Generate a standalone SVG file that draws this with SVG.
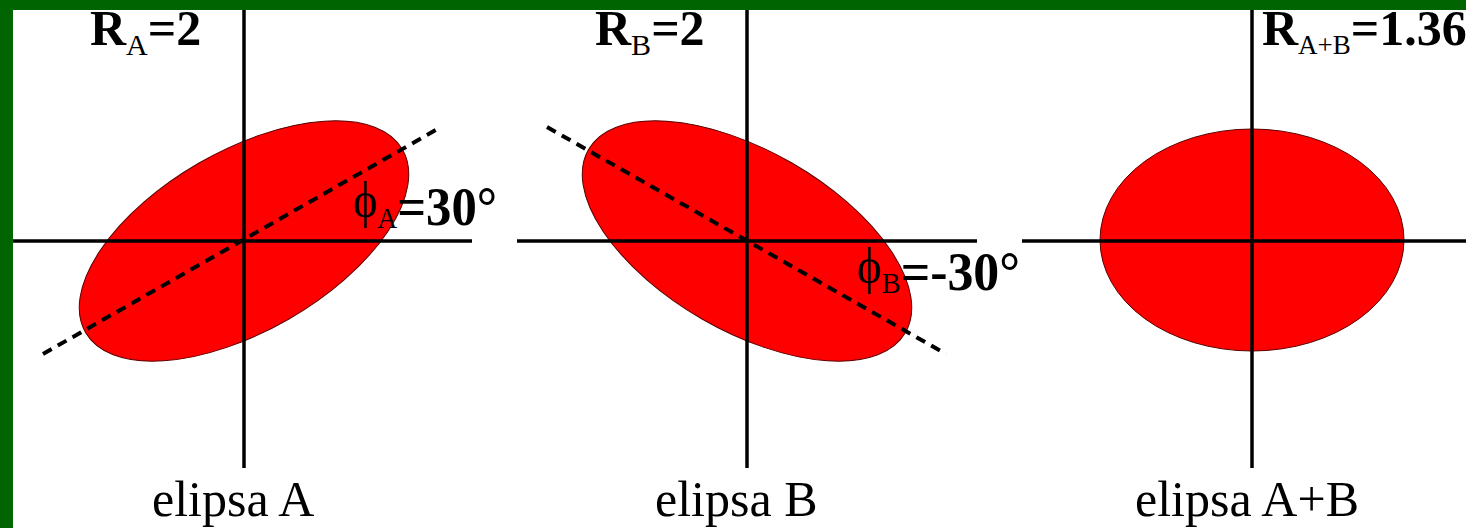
<svg xmlns="http://www.w3.org/2000/svg" width="1466" height="528" viewBox="0 0 1466 528">
<style>
.ell{fill:#ff0000;stroke:#5a0000;stroke-width:1}
.ax{stroke:#000;stroke-width:3.5;fill:none}
.dash{stroke:#000;stroke-width:4;stroke-dasharray:10 7;fill:none}
.b{font-family:"Liberation Serif","Times New Roman",serif;font-weight:bold;fill:#000}
.r{font-family:"Liberation Serif","Times New Roman",serif;font-weight:normal;fill:#000}
</style>
<rect x="0" y="0" width="1466" height="528" fill="#fff"/>
<g id="panelA">
<ellipse class="ell" cx="244" cy="241" rx="183" ry="90" transform="rotate(-30 244 241)"/>
</g>
<g id="panelB">
<ellipse class="ell" cx="747" cy="241" rx="183" ry="90" transform="rotate(30 747 241)"/>
</g>
<g id="panelC">
<ellipse class="ell" cx="1252" cy="240" rx="152" ry="111"/>
</g>
<g id="connectors">
<line class="ax" x1="13" y1="241" x2="472" y2="241"/>
<line class="ax" x1="244" y1="10" x2="244" y2="468"/>
<line class="ax" x1="517" y1="241" x2="977" y2="241"/>
<line class="ax" x1="747" y1="10" x2="747" y2="468"/>
<line class="ax" x1="1022" y1="241" x2="1466" y2="241"/>
<line class="ax" x1="1252" y1="10" x2="1252" y2="468"/>
<line class="dash" x1="43" y1="354" x2="441" y2="127"/>
<line class="dash" x1="547" y1="127" x2="946" y2="354"/>
</g>
<g id="labelA">
<text class="b" x="90" y="45" font-size="50">R<tspan class="r" font-size="30" dy="10">A</tspan><tspan dy="-10">=2</tspan></text>
<text class="r" x="353" y="217" font-size="50" textLength="144" lengthAdjust="spacingAndGlyphs">ϕ<tspan font-size="30" dy="11">A</tspan><tspan class="b" font-size="55" dy="-3">=30°</tspan></text>
<text class="r" x="152" y="516" font-size="50">elipsa A</text>
</g>
<g id="labelB">
<text class="b" x="595" y="45" font-size="50">R<tspan class="r" font-size="30" dy="10">B</tspan><tspan dy="-10">=2</tspan></text>
<text class="r" x="857" y="283" font-size="50" textLength="163" lengthAdjust="spacingAndGlyphs">ϕ<tspan font-size="30" dy="10">B</tspan><tspan class="b" font-size="55" dy="-3">=-30°</tspan></text>
<text class="r" x="655" y="516" font-size="50">elipsa B</text>
</g>
<g id="labelC">
<text class="b" x="1262" y="45" font-size="50">R<tspan class="r" font-size="27" dy="9">A+B</tspan><tspan dy="-9">=1.36</tspan></text>
<text class="r" x="1135" y="516" font-size="50">elipsa A+B</text>
</g>
<rect x="0" y="0" width="1466" height="10" fill="#006400"/>
<rect x="0" y="0" width="13" height="528" fill="#006400"/>
</svg>
